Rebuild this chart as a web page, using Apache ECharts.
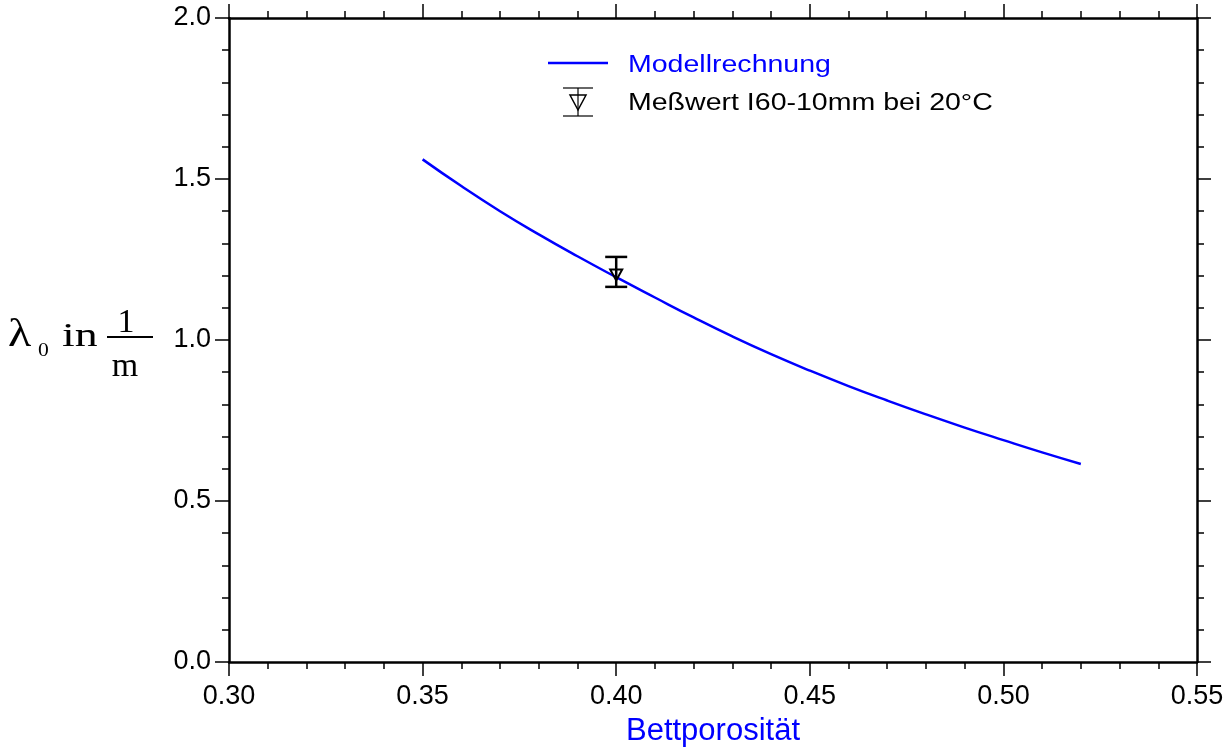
<!DOCTYPE html>
<html><head><meta charset="utf-8">
<script src="https://cdn.jsdelivr.net/npm/echarts@6/dist/echarts.min.js"></script>
<style>html,body{margin:0;padding:0;background:#fff}#c{width:1224px;height:749px}</style>
</head><body><div id="c"></div>
<script>
// ---- data ----
const porosity = [0.35,0.36,0.37,0.38,0.39,0.40,0.41,0.42,0.43,0.44,0.45,0.46,0.47,0.48,0.49,0.50,0.51,0.52];
const lambdaModel = [1.561,1.478,1.400,1.328,1.260,1.195,1.132,1.070,1.011,0.956,0.905,0.857,0.812,0.769,0.728,0.689,0.651,0.615];
const measPorosity = [0.40];
const measValue = [1.21];
const measLow = [1.165];
const measHigh = [1.258];
const seriesNames = ['Modellrechnung', 'Meßwert I60-10mm bei 20°C'];
const xTitle = 'Bettporosität';

const SANS = '"Liberation Sans", Arial, Helvetica, sans-serif';
const SERIF = '"Liberation Serif", "Times New Roman", serif';

function axis(pos, isX, showLabel){
  return {
    type:'value', position: pos,
    min: isX ? 0.30 : 0, max: isX ? 0.55 : 2.0, interval: isX ? 0.05 : 0.5,
    axisLine:{show:true,onZero:false,lineStyle:{color:'#000',width:2.5}},
    axisTick:{show:true,inside:false,length:14,lineStyle:{color:'#000',width:1.5}},
    minorTick:{show:true,splitNumber:5,length:7,lineStyle:{color:'#000',width:1.5}},
    splitLine:{show:false}, minorSplitLine:{show:false},
    axisLabel:{show:showLabel, showMinLabel:true, showMaxLabel:true, hideOverlap:false,
      color:'#000', fontFamily:SANS, fontSize:27, margin: isX ? 21 : 18,
      formatter: v => isX ? v.toFixed(2) : v.toFixed(1)}
  };
}

const xBottom = axis('bottom', true, true);
xBottom.name = xTitle;
xBottom.nameLocation = 'middle';
xBottom.nameGap = 54;
xBottom.nameTextStyle = {color:'#0000ff', fontFamily:SANS, fontSize:31};
const xTop = axis('top', true, false);
const yLeft = axis('left', false, true);
const yRight = axis('right', false, false);

const errData = measPorosity.map((x,i)=>[x, measValue[i], measLow[i], measHigh[i]]);

const chart = echarts.init(document.getElementById('c'), null, {renderer:'canvas'});
chart.setOption({
  backgroundColor:'#fff',
  animation:false,
  grid:{left:229, right:27, top:18, bottom:87, containLabel:false, outerBoundsMode:'none'},
  xAxis:[xBottom, xTop],
  yAxis:[yLeft, yRight],
  series:[
    {name:seriesNames[0], type:'line', xAxisIndex:0, yAxisIndex:0, smooth:0.5, showSymbol:false,
     lineStyle:{color:'#0000ff', width:2.5}, data: porosity.map((x,i)=>[x, lambdaModel[i]]), z:2},
    {name:seriesNames[1], type:'custom', xAxisIndex:0, yAxisIndex:0, z:3, data: errData,
     renderItem:(params, api)=>{
       const x = api.value(0), y = api.value(1), lo = api.value(2), hi = api.value(3);
       const pT = api.coord([x, hi]), pB = api.coord([x, lo]), p = api.coord([x, y]);
       const hw = 11;
       const st = {stroke:'#000', lineWidth:2.5, fill:null};
       return {type:'group', children:[
         {type:'line', shape:{x1:pT[0],y1:pT[1],x2:pB[0],y2:pB[1]}, style:st},
         {type:'line', shape:{x1:pT[0]-hw,y1:pT[1],x2:pT[0]+hw,y2:pT[1]}, style:st},
         {type:'line', shape:{x1:pB[0]-hw,y1:pB[1],x2:pB[0]+hw,y2:pB[1]}, style:st},
         {type:'polygon', shape:{points:[[p[0]-6,p[1]-3],[p[0]+6,p[1]-3],[p[0],p[1]+8]]},
          style:{fill:'none', stroke:'#000', lineWidth:2}}
       ]};
     }}
  ],
  graphic:[
    // legend
    {type:'line', shape:{x1:548,y1:63,x2:608,y2:63}, style:{stroke:'#0000ff', lineWidth:2.5}},
    {type:'text', x:628, y:66, scaleX:1.24, style:{text:seriesNames[0], fill:'#0000ff', font:'23px '+SANS, verticalAlign:'middle'}},
    {type:'line', shape:{x1:563,y1:88,x2:593,y2:88}, style:{stroke:'#000', lineWidth:1.2}},
    {type:'line', shape:{x1:563,y1:116,x2:593,y2:116}, style:{stroke:'#000', lineWidth:1.2}},
    {type:'line', shape:{x1:578,y1:88,x2:578,y2:116}, style:{stroke:'#000', lineWidth:1.2}},
    {type:'polygon', shape:{points:[[570,95],[586,95],[578,110]]}, style:{fill:'none', stroke:'#000', lineWidth:1.5}},
    {type:'text', x:628, y:104, scaleX:1.24, style:{text:seriesNames[1], fill:'#000', font:'23px '+SANS, verticalAlign:'middle'}},
    // y-axis title: λ0 in 1/m
    {type:'text', x:8, y:315, scaleX:1.2, style:{text:'λ', fill:'#000', font:'40px '+SERIF}},
    {type:'text', x:38, y:342, scaleX:1.2, style:{text:'0', fill:'#000', font:'18px '+SERIF}},
    {type:'text', x:62, y:320, scaleX:1.35, style:{text:'in', fill:'#000', font:'34px '+SERIF}},
    {type:'text', x:126, y:306, style:{text:'1', fill:'#000', font:'34px '+SERIF, align:'center'}},
    {type:'line', shape:{x1:107,y1:337,x2:153,y2:337}, style:{stroke:'#000', lineWidth:2}},
    {type:'text', x:125, y:350, style:{text:'m', fill:'#000', font:'34px '+SERIF, align:'center'}}
  ]
});
</script>
</body></html>
